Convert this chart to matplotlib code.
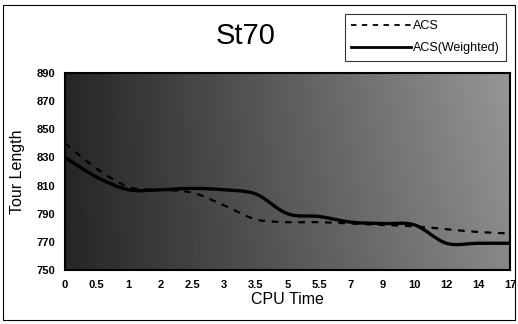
import numpy as np
import matplotlib
matplotlib.use("Agg")
import matplotlib.pyplot as plt
from matplotlib.patches import Rectangle, PathPatch
from matplotlib.path import Path
from matplotlib.lines import Line2D

categories = ["0", "0.5", "1", "2", "2.5", "3", "3.5", "5", "5.5", "7", "9", "10", "12", "14", "17"]
acs = [840, 822, 809, 807, 805, 796, 786, 784, 784, 783, 782, 781, 779, 777, 776]
acs_weighted = [830, 816, 807, 807, 808, 807, 804, 790, 788, 784, 783, 782, 769, 769, 769]
yticks = [750, 770, 790, 810, 830, 850, 870, 890]

plt.rcParams['font.family'] = ['Liberation Sans', 'DejaVu Sans']

fig = plt.figure(figsize=(5.18, 3.24), dpi=100)
ax = fig.add_axes([65/518, 54/324, 445/518, 197/324])

x = np.arange(len(categories))

# background shading (scanned halftone look)
gx = np.linspace(0, 1, 200)
gy = np.linspace(0, 1, 100)
GX, GY = np.meshgrid(gx, gy)
shade = 0.15 + 0.38 * GX + 0.06 * GY * GX
ax.imshow(shade, extent=[0, 14, 750, 890], aspect='auto', cmap='gray',
          vmin=0, vmax=1, origin='lower', zorder=0)


def smooth_path(xs, ys):
    # Excel-style smoothed line: Catmull-Rom segments expressed as cubic Beziers
    pts = np.column_stack([xs, ys]).astype(float)
    verts = [pts[0]]
    codes = [Path.MOVETO]
    n = len(pts)
    for i in range(n - 1):
        p0 = pts[i - 1] if i > 0 else pts[i]
        p1 = pts[i]
        p2 = pts[i + 1]
        p3 = pts[i + 2] if i + 2 < n else pts[i + 1]
        c1 = p1 + (p2 - p0) / 6.0
        c2 = p2 - (p3 - p1) / 6.0
        verts += [c1, c2, p2]
        codes += [Path.CURVE4] * 3
    return Path(verts, codes)


ax.add_patch(PathPatch(smooth_path(x, acs), fill=False, edgecolor='black',
                       lw=1.6, ls=(0, (3, 3)), zorder=3))
ax.add_patch(PathPatch(smooth_path(x, acs_weighted), fill=False, edgecolor='black',
                       lw=2.4, ls='-', zorder=4))

ax.set_xlim(0, 14)
ax.set_ylim(750, 890)
ax.set_xticks(x)
ax.set_xticklabels(categories)
ax.set_yticks(yticks)
ax.tick_params(axis='both', length=0, labelsize=8, pad=7)
for lab in ax.get_xticklabels() + ax.get_yticklabels():
    lab.set_fontweight('bold')
for s in ax.spines.values():
    s.set_linewidth(1.5)
    s.set_color('black')

ax.set_xlabel('CPU Time', fontsize=11.5, labelpad=2)
ax.set_ylabel('Tour Length', fontsize=11.5, labelpad=8)

fig.text(246/518, 1 - 36/324, 'St70', fontsize=21, ha='center', va='center')

handles = [Line2D([], [], color='black', lw=1.3, ls=(0, (3, 3))),
           Line2D([], [], color='black', lw=2.0, ls='-')]
leg = fig.legend(handles, ['ACS', 'ACS(Weighted)'], loc='upper left',
                 bbox_to_anchor=(345/518, 1 - 14/324),
                 frameon=True, fontsize=9, handlelength=4.8, handletextpad=0.15,
                 borderpad=0.5, labelspacing=0.8, fancybox=False, borderaxespad=0)
leg.get_frame().set_edgecolor('black')
leg.get_frame().set_linewidth(0.8)

fig.patches.append(Rectangle((3/518, 4/324), 1 - 6/518, 1 - 9/324, transform=fig.transFigure,
                             fill=False, edgecolor='black', linewidth=0.8))

fig.savefig('out.png', dpi=100)
